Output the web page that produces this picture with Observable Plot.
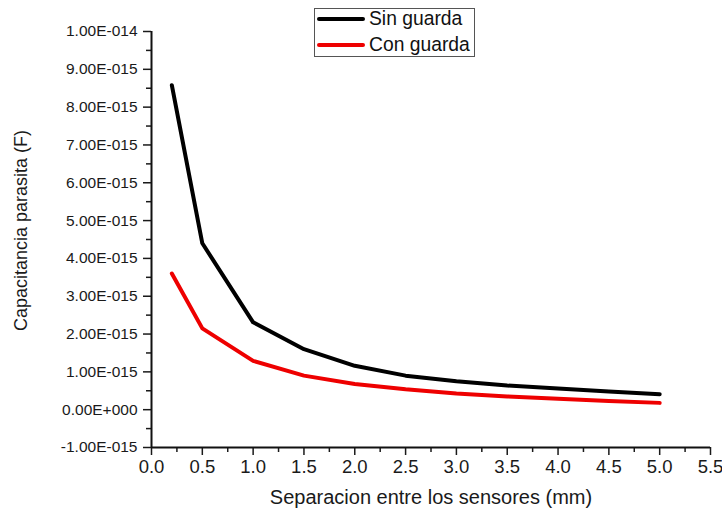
<!DOCTYPE html>
<html>
<head>
<meta charset="utf-8">
<script src="https://cdn.jsdelivr.net/npm/d3@7"></script>
<script src="https://cdn.jsdelivr.net/npm/@observablehq/plot@0.6"></script>
<style>
  html, body { margin: 0; padding: 0; background: #fff; }
  #wrap { position: relative; width: 722px; height: 512px; font-family: "Liberation Sans", Arial, sans-serif; }
  #legend { position: absolute; left: 314px; top: 8px; width: 159px; height: 47px; border: 1px solid #555; background: #fff; }
  .item { position: absolute; left: 2px; display: flex; align-items: center; font-size: 19.3px; color: #111; }
  .item svg { margin-right: 4px; }
</style>
</head>
<body>
<div id="wrap"></div>
<script>
const separacion = [0.2, 0.5, 1.0, 1.5, 2.0, 2.5, 3.0, 3.5, 4.0, 4.5, 5.0];
const sinGuarda = [8.58e-15, 4.40e-15, 2.31e-15, 1.60e-15, 1.16e-15, 0.90e-15, 0.75e-15, 0.64e-15, 0.56e-15, 0.48e-15, 0.41e-15];
const conGuarda = [3.60e-15, 2.15e-15, 1.29e-15, 0.90e-15, 0.68e-15, 0.54e-15, 0.43e-15, 0.35e-15, 0.29e-15, 0.23e-15, 0.18e-15];
const seriesNames = ["Sin guarda", "Con guarda"];
const seriesColors = ["#000000", "#ee0000"];
const xTicks = [0, 0.5, 1.0, 1.5, 2.0, 2.5, 3.0, 3.5, 4.0, 4.5, 5.0, 5.5];
const xMinor = [0.25, 0.75, 1.25, 1.75, 2.25, 2.75, 3.25, 3.75, 4.25, 4.75, 5.25];
const yTicks = [-1e-15, 0, 1e-15, 2e-15, 3e-15, 4e-15, 5e-15, 6e-15, 7e-15, 8e-15, 9e-15, 1e-14];
const yMinor = [-0.5e-15, 0.5e-15, 1.5e-15, 2.5e-15, 3.5e-15, 4.5e-15, 5.5e-15, 6.5e-15, 7.5e-15, 8.5e-15, 9.5e-15];
const xTitle = "Separacion entre los sensores (mm)";
const yTitle = "Capacitancia parasita (F)";

const data = [];
separacion.forEach((s, i) => {
  data.push({x: s, y: sinGuarda[i], serie: seriesNames[0]});
  data.push({x: s, y: conGuarda[i], serie: seriesNames[1]});
});

function fmtE(v) {
  if (Math.abs(v) < 1e-30) return "0.00E+000";
  let e = Math.floor(Math.log10(Math.abs(v)) + 1e-9);
  let m = v / Math.pow(10, e);
  let ms = m.toFixed(2);
  if (Math.abs(parseFloat(ms)) >= 10) { e += 1; ms = (v / Math.pow(10, e)).toFixed(2); }
  return ms + "E" + (e < 0 ? "-" : "+") + String(Math.abs(e)).padStart(3, "0");
}

const chart = Plot.plot({
  width: 722,
  height: 512,
  marginLeft: 151,
  marginRight: 12,
  marginTop: 31,
  marginBottom: 65,
  style: {fontFamily: "'Liberation Sans', Arial, sans-serif", background: "#fff"},
  x: {domain: [0, 5.5]},
  y: {domain: [-1e-15, 1e-14]},
  color: {domain: seriesNames, range: seriesColors},
  marks: [
    Plot.axisY({ticks: yTicks, tickSize: 8, tickPadding: 6, tickFormat: fmtE, label: null, fontSize: 15.5, color: "#1a1a1a", strokeWidth: 1.5}),
    Plot.axisY({ticks: yMinor, tickSize: 5, tickFormat: () => "", label: null, strokeWidth: 1.5, color: "#1a1a1a"}),
    Plot.axisX({ticks: xTicks, tickSize: 8, tickPadding: 4, tickFormat: d3.format(".1f"), label: null, fontSize: 18.5, color: "#1a1a1a", strokeWidth: 1.5}),
    Plot.axisX({ticks: xMinor, tickSize: 5, tickFormat: () => "", label: null, strokeWidth: 1.5, color: "#1a1a1a"}),
    Plot.ruleX([0], {y1: yTicks[0], y2: yTicks[yTicks.length - 1], stroke: "#111", strokeWidth: 2}),
    Plot.ruleY([yTicks[0]], {x1: xTicks[0], x2: xTicks[xTicks.length - 1], stroke: "#111", strokeWidth: 2}),
    Plot.line(data, {x: "x", y: "y", z: "serie", stroke: "serie", strokeWidth: 4, strokeLinejoin: "round", strokeLinecap: "round"}),
    Plot.text([xTitle], {frameAnchor: "bottom", dy: 56, fontSize: 20, fill: "#1a1a1a"}),
    Plot.text([yTitle], {frameAnchor: "left", textAnchor: "middle", dx: -130, dy: -9, rotate: -90, fontSize: 18, fill: "#1a1a1a"})
  ]
});

const wrap = document.getElementById("wrap");
wrap.appendChild(chart);

const legend = document.createElement("div");
legend.id = "legend";
seriesNames.forEach((name, i) => {
  const item = document.createElement("div");
  item.className = "item";
  item.style.top = (i === 0 ? -1 : 25) + "px";
  item.innerHTML = `<svg width="48" height="10"><line x1="2" y1="5" x2="46" y2="5" stroke="${seriesColors[i]}" stroke-width="4" stroke-linecap="round"/></svg><span>${name}</span>`;
  legend.appendChild(item);
});
wrap.appendChild(legend);
</script>
</body>
</html>
